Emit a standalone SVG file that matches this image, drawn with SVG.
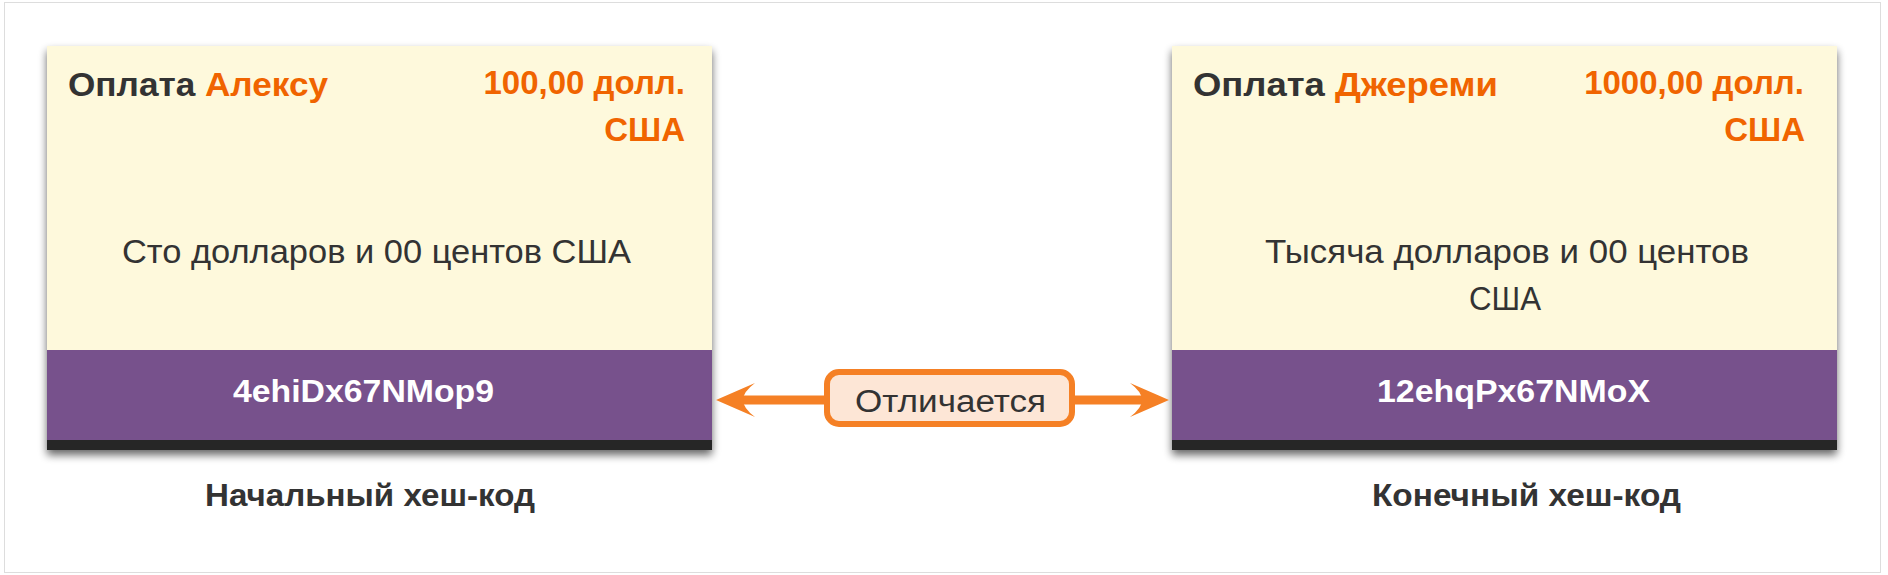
<svg xmlns="http://www.w3.org/2000/svg" width="1888" height="575" viewBox="0 0 1888 575">
<defs>
<style>
.card{fill:#fef9dc}
.hashbar{fill:#77518c}
.band{fill:#262626}
.t{font-family:"Liberation Sans",Arial,sans-serif}
.hdr{font-size:33px;font-weight:bold;fill:#333333}
.org{fill:#f06400}
.body{font-size:33px;fill:#333333}
.hash{font-size:31px;font-weight:bold;fill:#ffffff}
.cap{font-size:32px;font-weight:bold;fill:#333333}
.arrow{fill:#f58025}
</style>
<filter id="sh" x="-5%" y="-5%" width="110%" height="115%">
<feGaussianBlur in="SourceAlpha" stdDeviation="4"/>
<feOffset dx="0" dy="5"/>
<feComponentTransfer><feFuncA type="linear" slope="0.6"/></feComponentTransfer>
<feMerge><feMergeNode/><feMergeNode in="SourceGraphic"/></feMerge>
</filter>
</defs>
<rect x="4.5" y="2.5" width="1876" height="570" fill="#ffffff" stroke="#dddddd" stroke-width="1"/>

<g id="node-left">
<g filter="url(#sh)">
<rect class="band" x="47" y="46" width="665" height="404"/>
<rect class="card" x="47" y="46" width="665" height="304"/>
<rect class="hashbar" x="47" y="350" width="665" height="90"/>
</g>
<text class="t hdr" x="68" y="96" textLength="260" lengthAdjust="spacingAndGlyphs">Оплата <tspan class="org">Алексу</tspan></text>
<text class="t hdr org" x="685" y="94" text-anchor="end">100,00 долл.</text>
<text class="t hdr org" x="685" y="141" text-anchor="end">США</text>
<text class="t body" x="122" y="263" textLength="509" lengthAdjust="spacingAndGlyphs">Сто долларов и 00 центов США</text>
<text class="t hash" x="233" y="402" textLength="261" lengthAdjust="spacingAndGlyphs">4ehiDx67NMop9</text>
<text class="t cap" x="205" y="506" textLength="330" lengthAdjust="spacingAndGlyphs">Начальный хеш-код</text>
</g>

<g id="node-right">
<g filter="url(#sh)">
<rect class="band" x="1172" y="46" width="665" height="404"/>
<rect class="card" x="1172" y="46" width="665" height="304"/>
<rect class="hashbar" x="1172" y="350" width="665" height="90"/>
</g>
<text class="t hdr" x="1193" y="96" textLength="305" lengthAdjust="spacingAndGlyphs">Оплата <tspan class="org">Джереми</tspan></text>
<text class="t hdr org" x="1804" y="94" text-anchor="end">1000,00 долл.</text>
<text class="t hdr org" x="1805" y="141" text-anchor="end">США</text>
<text class="t body" x="1265" y="263" textLength="484" lengthAdjust="spacingAndGlyphs">Тысяча долларов и 00 центов</text>
<text class="t body" x="1469" y="310" textLength="72" lengthAdjust="spacingAndGlyphs">США</text>
<text class="t hash" x="1377" y="402" textLength="273" lengthAdjust="spacingAndGlyphs">12ehqPx67NMoX</text>
<text class="t cap" x="1372" y="506" textLength="309" lengthAdjust="spacingAndGlyphs">Конечный хеш-код</text>
</g>

<g id="connectors">
<rect class="arrow" x="742" y="395.5" width="90" height="9"/>
<rect class="arrow" x="1068" y="395.5" width="90" height="9"/>
<path class="arrow" d="M716,400 L755,383 Q743,392 743,400 Q743,408 755,417 Z"/>
<path class="arrow" d="M1169,400 L1130,383 Q1142,392 1142,400 Q1142,408 1130,417 Z"/>
</g>

<g id="label-diff">
<rect x="827" y="372" width="245" height="52" rx="12" ry="12" fill="#fde6d6" stroke="#f58025" stroke-width="6"/>
<text class="t" x="855" y="412" font-size="31" fill="#333333" textLength="191" lengthAdjust="spacingAndGlyphs">Отличается</text>
</g>
</svg>
